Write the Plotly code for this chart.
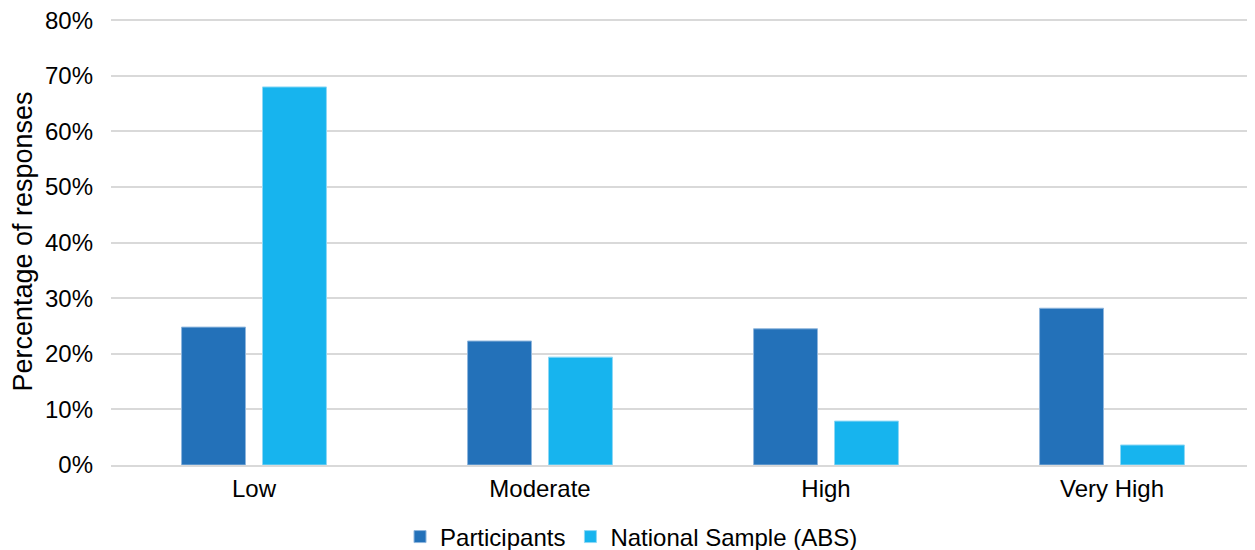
import plotly.graph_objects as go

categories = ["Low", "Moderate", "High", "Very High"]
participants = [24.8, 22.3, 24.5, 28.2]
national = [68.0, 19.4, 7.9, 3.6]
tick_vals = [0, 10, 20, 30, 40, 50, 60, 70, 80]
tick_text = ["0%", "10%", "20%", "30%", "40%", "50%", "60%", "70%", "80%"]

font_family = "Liberation Sans, Arial, Helvetica, sans-serif"

fig = go.Figure()
fig.add_trace(go.Bar(name="Participants", x=categories, y=participants,
                     marker=dict(color="#2371B9", line=dict(color="#8FB6DD", width=1))))
fig.add_trace(go.Bar(name="National Sample (ABS)", x=categories, y=national,
                     marker=dict(color="#17B4EE", line=dict(color="#8ED8F5", width=1))))

# page body has an 8px margin, so the figure is offset by 8px right and down
fig.update_layout(
    width=1247, height=542,
    margin=dict(l=103, r=0, t=10, b=85, autoexpand=False),
    paper_bgcolor="white", plot_bgcolor="white",
    barmode="group", bargap=0.434, bargroupgap=0.21,
    font=dict(family=font_family, size=24, color="#000000"),
    legend=dict(orientation="h", x=0.455, xanchor="center", y=-0.161, yanchor="middle",
                font=dict(size=24), itemwidth=30, traceorder="normal"),
    showlegend=True,
)
fig.update_yaxes(range=[0, 80.4], tickvals=tick_vals, ticktext=tick_text,
                 showgrid=True, gridcolor="#D9D9D9", gridwidth=2,
                 zeroline=False, showline=False, ticks="", ticklen=0,
                 automargin=False, ticklabelstandoff=17, ticklabeloverflow="allow",
                 title=dict(text="Percentage of responses", font=dict(size=27), standoff=12),
                 tickfont=dict(size=24))
fig.update_xaxes(showline=True, linecolor="#D9D9D9", linewidth=2, ticks="",
                 automargin=False, ticklabelstandoff=1,
                 tickfont=dict(size=24))

fig.write_html("out.html")
